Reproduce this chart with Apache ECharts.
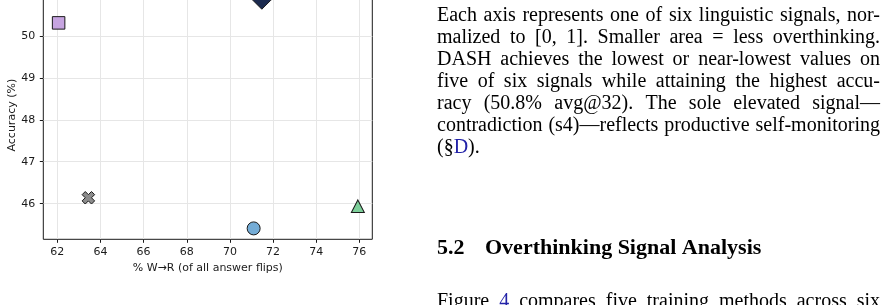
<!DOCTYPE html>
<html>
<head>
<meta charset="utf-8">
<script src="https://cdn.jsdelivr.net/npm/echarts@6/dist/echarts.min.js"></script>
<style>
html, body { margin: 0; padding: 0; background: #fff; overflow: hidden; }
/* the figure's top spine sits just above the visible area */
#chart { width: 883px; height: 314px; margin-top: -9px; }
</style>
</head>
<body>
<div id="chart"></div>
<script>
// data
const methods = ['DASH', 'Method A', 'Method B', 'Method C', 'Method D'];
const wrFlipPct = [71.48, 62.06, 63.44, 71.10, 75.93];
const accuracy = [50.85, 50.31, 46.14, 45.41, 45.94];
const xTicks = [62, 64, 66, 68, 70, 72, 74, 76];
const yTicks = [46, 47, 48, 49, 50];

// paragraph text next to the figure ({b|..} = link colour)
const bodyLines = [
  'Each axis represents one of six linguistic signals, nor-',
  'malized to [0, 1].  Smaller area = less overthinking.',
  'DASH achieves the lowest or near-lowest values on',
  'five of six signals while attaining the highest accu-',
  'racy (50.8% avg@32).  The sole elevated signal—',
  'contradiction (s4)—reflects productive self-monitoring',
  '(§{b|D}).'
];
const headingNum = '5.2';
const headingText = 'Overthinking Signal Analysis';
const lastLine = 'Figure {b|4} compares five training methods across six';

const xMarker = 'path://M2.5,0 L5,2.5 L7.5,0 L10,2.5 L7.5,5 L10,7.5 L7.5,10 L5,7.5 L2.5,10 L0,7.5 L2.5,5 L0,2.5 Z';
const markerStyles = [
  { symbol: 'diamond', size: 18, color: '#1b2a4e' },
  { symbol: 'rect', size: 12.5, color: '#c6a4e0' },
  { symbol: xMarker, size: 12.5, color: '#8c8c8c' },
  { symbol: 'circle', size: 13, color: '#74acd6' },
  { symbol: 'triangle', size: [13, 12.5], color: '#7dcf9a' }
];

const yOff = 9; // page y -> chart y
const sansFont = '"DejaVu Sans", sans-serif';
const bodySize = 20;
const bodyFont = bodySize + 'px "Liberation Serif"';
const headSize = 22;
const headFont = 'bold ' + headSize + 'px "Liberation Serif"';
const linkColor = '#2323a8';
const textLeft = 437;
const textRight = 880;

const measureCtx = document.createElement('canvas').getContext('2d');
function plainText(s) { return s.replace(/\{b\|([^}]*)\}/g, '$1'); }
function textWidth(s, font) {
  measureCtx.font = font;
  return measureCtx.measureText(plainText(s)).width;
}
function textEl(str, x, baseline, font, size) {
  return {
    type: 'text',
    x: x,
    y: baseline + yOff - 0.305 * size,
    silent: true,
    style: {
      text: str,
      font: font,
      fill: '#000',
      verticalAlign: 'middle',
      rich: { b: { fill: linkColor, font: font } }
    }
  };
}
// justified line: words spread between textLeft and textRight
function lineEls(line, baseline, justify) {
  const words = line.split(/\s+/);
  const widths = words.map(w => textWidth(w, bodyFont));
  const total = widths.reduce((a, b) => a + b, 0);
  const gap = justify && words.length > 1
    ? (textRight - textLeft - total) / (words.length - 1)
    : textWidth(' ', bodyFont);
  let x = textLeft;
  return words.map((w, i) => {
    const el = textEl(w, x, baseline, bodyFont, bodySize);
    x += widths[i] + gap;
    return el;
  });
}

const graphics = [];
bodyLines.forEach((line, i) => {
  graphics.push(...lineEls(line, 21.7 + i * 22.05, i < bodyLines.length - 1));
});
graphics.push(textEl(headingNum, textLeft, 255, headFont, headSize));
graphics.push(textEl(headingText, 485, 255, headFont, headSize));
graphics.push(...lineEls(lastLine, 307.5, true));

const chart = echarts.init(document.getElementById('chart'));
chart.setOption({
  animation: false,
  backgroundColor: '#fff',
  grid: {
    left: 43.3, top: 0, width: 329, height: 248.3,
    show: true, borderColor: '#1a1a1a', borderWidth: 1, backgroundColor: 'transparent'
  },
  xAxis: {
    type: 'value',
    min: 61.35, max: 76.6,
    splitNumber: 7,
    name: '% W→R (of all answer flips)',
    nameLocation: 'middle',
    nameGap: 22,
    nameTextStyle: { fontFamily: sansFont, fontSize: 11, color: '#1a1a1a' },
    axisLine: { show: false },
    axisTick: { show: true, length: 3.5, customValues: xTicks, lineStyle: { color: '#1a1a1a' } },
    axisLabel: {
      customValues: xTicks, margin: 7,
      fontFamily: sansFont, fontSize: 11, color: '#1a1a1a'
    },
    splitLine: { show: true, lineStyle: { color: '#e6e6e6', width: 1 } }
  },
  yAxis: {
    type: 'value',
    min: 45.15, max: 51.07,
    splitNumber: 6,
    name: 'Accuracy (%)',
    nameLocation: 'middle',
    nameGap: 25,
    nameTextStyle: { fontFamily: sansFont, fontSize: 11, color: '#1a1a1a' },
    axisLine: { show: false },
    axisTick: { show: true, length: 3.5, customValues: yTicks, lineStyle: { color: '#1a1a1a' } },
    axisLabel: {
      customValues: yTicks, margin: 8,
      fontFamily: sansFont, fontSize: 11, color: '#1a1a1a'
    },
    splitLine: { show: true, lineStyle: { color: '#e6e6e6', width: 1 } }
  },
  series: methods.map((m, i) => ({
    name: m,
    type: 'scatter',
    clip: false,
    symbol: markerStyles[i].symbol,
    symbolSize: markerStyles[i].size,
    itemStyle: { color: markerStyles[i].color, borderColor: '#1a1a1a', borderWidth: 1, opacity: 1 },
    data: [[wrFlipPct[i], accuracy[i]]]
  })),
  graphic: graphics
});
</script>
</body>
</html>
